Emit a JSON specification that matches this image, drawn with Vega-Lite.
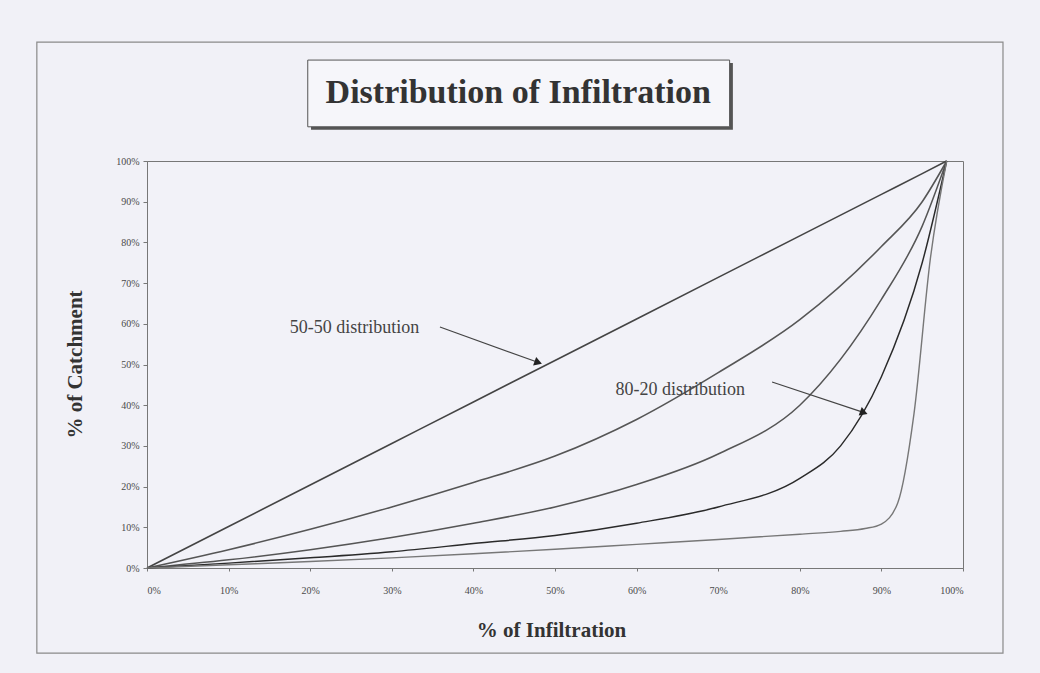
{
  "$schema": "https://vega.github.io/schema/vega-lite/v6.json",
  "autosize": {"type": "none"},
  "width": 816,
  "height": 407,
  "padding": {"left": 147, "top": 161, "right": 77, "bottom": 105},
  "background": "#f1f1f7",
  "config": {
    "view": {"stroke": "#777", "strokeWidth": 1, "fill": "#f2f2f8"},
    "font": "Liberation Serif"
  },
  "datasets": {
    "curves": [
      {"series": "50-50", "x": 0, "y": 0},
      {"series": "50-50", "x": 0.1, "y": 0.102},
      {"series": "50-50", "x": 0.2, "y": 0.204},
      {"series": "50-50", "x": 0.3, "y": 0.306},
      {"series": "50-50", "x": 0.4, "y": 0.408},
      {"series": "50-50", "x": 0.5, "y": 0.51},
      {"series": "50-50", "x": 0.6, "y": 0.612},
      {"series": "50-50", "x": 0.7, "y": 0.714},
      {"series": "50-50", "x": 0.8, "y": 0.816},
      {"series": "50-50", "x": 0.9, "y": 0.918},
      {"series": "50-50", "x": 0.95, "y": 0.969},
      {"series": "50-50", "x": 0.98, "y": 1.0},
      {"series": "B", "x": 0, "y": 0},
      {"series": "B", "x": 0.1, "y": 0.045},
      {"series": "B", "x": 0.2, "y": 0.095},
      {"series": "B", "x": 0.3, "y": 0.15},
      {"series": "B", "x": 0.4, "y": 0.21},
      {"series": "B", "x": 0.5, "y": 0.275},
      {"series": "B", "x": 0.6, "y": 0.365},
      {"series": "B", "x": 0.7, "y": 0.48},
      {"series": "B", "x": 0.8, "y": 0.61},
      {"series": "B", "x": 0.9, "y": 0.79},
      {"series": "B", "x": 0.95, "y": 0.9},
      {"series": "B", "x": 0.98, "y": 1.0},
      {"series": "C", "x": 0, "y": 0},
      {"series": "C", "x": 0.1, "y": 0.02},
      {"series": "C", "x": 0.2, "y": 0.045},
      {"series": "C", "x": 0.3, "y": 0.075},
      {"series": "C", "x": 0.4, "y": 0.11},
      {"series": "C", "x": 0.5, "y": 0.15},
      {"series": "C", "x": 0.6, "y": 0.205},
      {"series": "C", "x": 0.7, "y": 0.28},
      {"series": "C", "x": 0.8, "y": 0.4},
      {"series": "C", "x": 0.9, "y": 0.66},
      {"series": "C", "x": 0.95, "y": 0.84},
      {"series": "C", "x": 0.98, "y": 1.0},
      {"series": "80-20", "x": 0, "y": 0},
      {"series": "80-20", "x": 0.1, "y": 0.012},
      {"series": "80-20", "x": 0.2, "y": 0.025},
      {"series": "80-20", "x": 0.3, "y": 0.04},
      {"series": "80-20", "x": 0.4, "y": 0.06},
      {"series": "80-20", "x": 0.5, "y": 0.08},
      {"series": "80-20", "x": 0.6, "y": 0.11},
      {"series": "80-20", "x": 0.7, "y": 0.15},
      {"series": "80-20", "x": 0.8, "y": 0.22},
      {"series": "80-20", "x": 0.85, "y": 0.3},
      {"series": "80-20", "x": 0.9, "y": 0.47},
      {"series": "80-20", "x": 0.95, "y": 0.75},
      {"series": "80-20", "x": 0.98, "y": 1.0},
      {"series": "E", "x": 0, "y": 0},
      {"series": "E", "x": 0.1, "y": 0.008},
      {"series": "E", "x": 0.2, "y": 0.016},
      {"series": "E", "x": 0.3, "y": 0.025},
      {"series": "E", "x": 0.4, "y": 0.035},
      {"series": "E", "x": 0.5, "y": 0.046},
      {"series": "E", "x": 0.6, "y": 0.058},
      {"series": "E", "x": 0.7, "y": 0.07},
      {"series": "E", "x": 0.8, "y": 0.083},
      {"series": "E", "x": 0.85, "y": 0.09},
      {"series": "E", "x": 0.88, "y": 0.097},
      {"series": "E", "x": 0.9, "y": 0.108},
      {"series": "E", "x": 0.92, "y": 0.16},
      {"series": "E", "x": 0.94, "y": 0.38},
      {"series": "E", "x": 0.96, "y": 0.76},
      {"series": "E", "x": 0.98, "y": 1.0}
    ],
    "notes": [
      {"label": "50-50 distribution", "x": 0.175, "y": 0.59},
      {"label": "80-20 distribution", "x": 0.574, "y": 0.437}
    ],
    "arrows": [
      {"x": 0.359, "y": 0.592, "x2": 0.478, "y2": 0.506},
      {"x": 0.766, "y": 0.457, "x2": 0.877, "y2": 0.383}
    ],
    "one": [{}]
  },
  "layer": [
    {
      "data": {"name": "curves"},
      "mark": {"type": "line", "interpolate": "monotone"},
      "encoding": {
        "x": {
          "field": "x", "type": "quantitative",
          "scale": {"domain": [0, 1], "nice": false},
          "axis": {
            "title": "% of Infiltration", "format": ".0%", "values": [0, 0.1, 0.2, 0.3, 0.4, 0.5, 0.6, 0.7, 0.8, 0.9, 1],
            "grid": false, "domainColor": "#777", "tickColor": "#777", "tickSize": 3,
            "labelFont": "Liberation Serif", "labelFontSize": 10, "labelColor": "#4a4a4a", "labelPadding": 14,
            "titleFont": "Liberation Serif", "titleFontSize": 21, "titleFontWeight": "bold", "titleColor": "#333",
            "titleX": 404, "titleY": 62, "titleBaseline": "middle", "titleAlign": "center"
          }
        },
        "y": {
          "field": "y", "type": "quantitative",
          "scale": {"domain": [0, 1], "nice": false},
          "axis": {
            "title": "% of Catchment", "format": ".0%", "values": [0, 0.1, 0.2, 0.3, 0.4, 0.5, 0.6, 0.7, 0.8, 0.9, 1],
            "grid": false, "domainColor": "#777", "tickColor": "#777", "tickSize": 4,
            "labelFont": "Liberation Serif", "labelFontSize": 10, "labelColor": "#4a4a4a", "labelPadding": 4,
            "titleFont": "Liberation Serif", "titleFontSize": 21, "titleFontWeight": "bold", "titleColor": "#333",
            "titleX": -72, "titleY": 203, "titleBaseline": "middle", "titleAlign": "center", "titleAngle": -90
          }
        },
        "color": {
          "field": "series", "type": "nominal", "legend": null,
          "scale": {"domain": ["50-50", "B", "C", "80-20", "E"], "range": ["#444", "#555", "#555", "#2a2a2a", "#777"]}
        },
        "strokeWidth": {
          "field": "series", "type": "nominal", "legend": null,
          "scale": {"domain": ["50-50", "B", "C", "80-20", "E"], "range": [1.6, 1.4, 1.4, 2.4, 1.0]}
        }
      }
    },
    {
      "data": {"name": "one"},
      "mark": {"type": "rect", "fill": null, "stroke": "#8a8a8a", "strokeWidth": 1.2, "clip": false},
      "encoding": {
        "x": {"datum": -0.135, "type": "quantitative"},
        "x2": {"datum": 1.049},
        "y": {"datum": 1.292, "type": "quantitative"},
        "y2": {"datum": -0.209}
      }
    },
    {
      "data": {"name": "one"},
      "mark": {"type": "rect", "fill": "#555", "clip": false},
      "encoding": {
        "x": {"datum": 0.201, "type": "quantitative"},
        "x2": {"datum": 0.718},
        "y": {"datum": 1.241, "type": "quantitative"},
        "y2": {"datum": 1.077}
      }
    },
    {
      "data": {"name": "one"},
      "mark": {"type": "rect", "fill": "#f6f6fa", "stroke": "#555", "strokeWidth": 1, "clip": false},
      "encoding": {
        "x": {"datum": 0.197, "type": "quantitative"},
        "x2": {"datum": 0.714},
        "y": {"datum": 1.248, "type": "quantitative"},
        "y2": {"datum": 1.084}
      }
    },
    {
      "data": {"name": "one"},
      "mark": {"type": "text", "text": "Distribution of Infiltration", "font": "Liberation Serif", "fontSize": 34, "fontWeight": "bold", "color": "#333", "align": "center", "baseline": "middle", "clip": false},
      "encoding": {
        "x": {"datum": 0.455, "type": "quantitative"},
        "y": {"datum": 1.166, "type": "quantitative"}
      }
    },
    {
      "data": {"name": "arrows"},
      "mark": {"type": "rule", "color": "#444", "strokeWidth": 1.2},
      "encoding": {
        "x": {"field": "x", "type": "quantitative"},
        "y": {"field": "y", "type": "quantitative"},
        "x2": {"field": "x2"},
        "y2": {"field": "y2"}
      }
    },
    {
      "data": {"name": "arrows"},
      "mark": {"type": "point", "shape": "triangle", "filled": true, "color": "#222", "size": 80, "angle": 110, "opacity": 1},
      "encoding": {
        "x": {"field": "x2", "type": "quantitative"},
        "y": {"field": "y2", "type": "quantitative"}
      }
    },
    {
      "data": {"name": "notes"},
      "mark": {"type": "text", "font": "Liberation Serif", "fontSize": 18, "color": "#444", "align": "left", "baseline": "middle"},
      "encoding": {
        "x": {"field": "x", "type": "quantitative"},
        "y": {"field": "y", "type": "quantitative"},
        "text": {"field": "label"}
      }
    }
  ]
}
